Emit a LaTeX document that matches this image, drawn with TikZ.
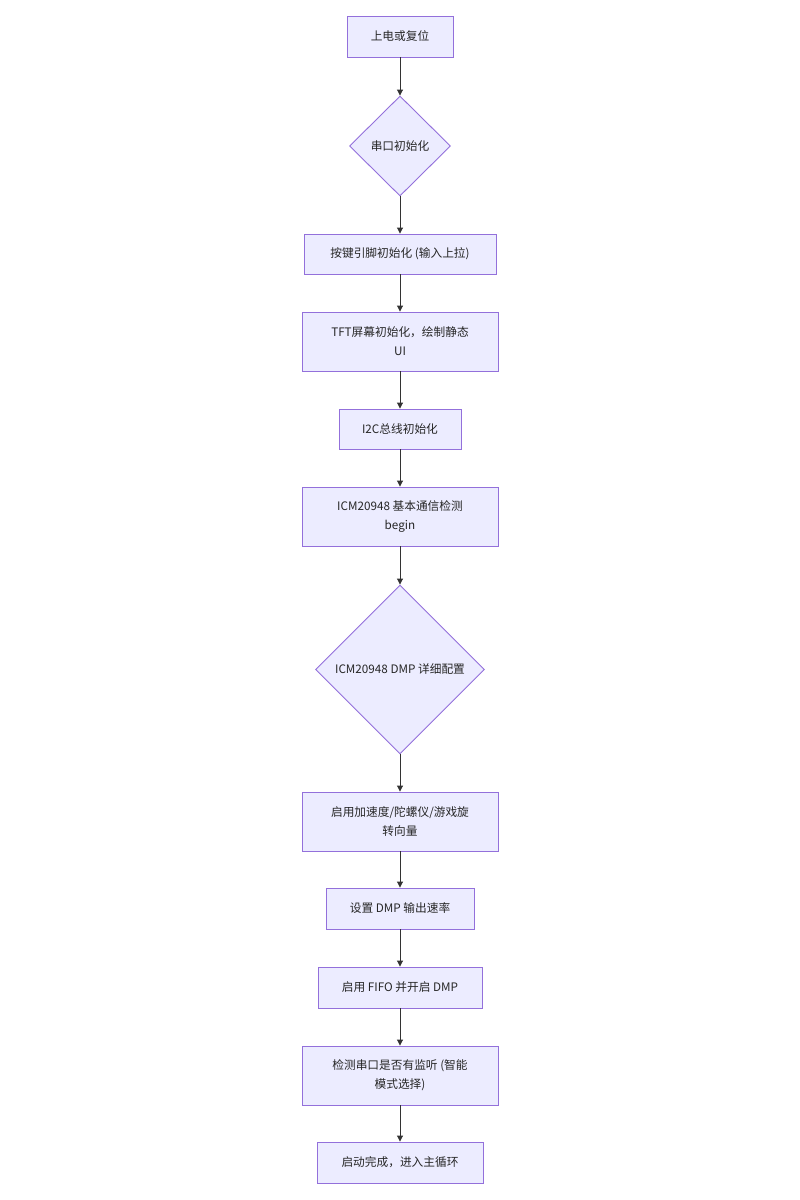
\documentclass[tikz,border=0pt]{standalone}
\usepackage{fontspec}
\setmainfont{Noto Sans CJK SC}
\usetikzlibrary{shapes.geometric,arrows.meta}
\definecolor{nfill}{HTML}{ECECFF}
\definecolor{nline}{HTML}{9370DB}
\definecolor{aline}{HTML}{333333}
\begin{document}
\begin{tikzpicture}[x=1pt,y=-1pt,
  font=\fontsize{11.7}{19}\selectfont,
  box/.style={draw=nline,fill=nfill,line width=0.9pt,rectangle,inner sep=0pt,align=center,text=black!85},
  dia/.style={draw=nline,fill=nfill,line width=0.9pt,diamond,inner sep=0pt,align=center,text=black!85},
  arr/.style={draw=aline,line width=0.9pt,-{Triangle[length=6pt,width=6pt]}}]
\useasboundingbox[fill=white] (0,0) rectangle (800,1200);
\node[box,minimum width=106,minimum height=41] (n1) at (400,36.5) {上电或复位};
\node[dia,minimum width=101,minimum height=100] (n2) at (400,146) {串口初始化};
\node[box,minimum width=192,minimum height=40] (n3) at (400,254) {按键引脚初始化 (输入上拉)};
\node[box,minimum width=196,minimum height=59] (n4) at (400,341.5) {TFT屏幕初始化，绘制静态\\UI};
\node[box,minimum width=122,minimum height=40] (n5) at (400,429) {I2C总线初始化};
\node[box,minimum width=196,minimum height=59] (n6) at (400,516.5) {ICM20948 基本通信检测\\begin};
\node[dia,minimum width=169,minimum height=169] (n7) at (400,669.5) {ICM20948 DMP 详细配置};
\node[box,minimum width=196,minimum height=59] (n8) at (400,821.5) {启用加速度/陀螺仪/游戏旋\\转向量};
\node[box,minimum width=148,minimum height=41] (n9) at (400,908.5) {设置 DMP 输出速率};
\node[box,minimum width=164,minimum height=41] (n10) at (400,987.5) {启用 FIFO 并开启 DMP};
\node[box,minimum width=196,minimum height=59] (n11) at (400,1075.5) {检测串口是否有监听 (智能\\模式选择)};
\node[box,minimum width=166,minimum height=41] (n12) at (400,1162.5) {启动完成，进入主循环};
\foreach \a/\b in {n1/n2,n2/n3,n3/n4,n4/n5,n5/n6,n6/n7,n7/n8,n8/n9,n9/n10,n10/n11,n11/n12}
  \draw[arr] (\a.south) -- (\b.north);
\end{tikzpicture}
\end{document}
